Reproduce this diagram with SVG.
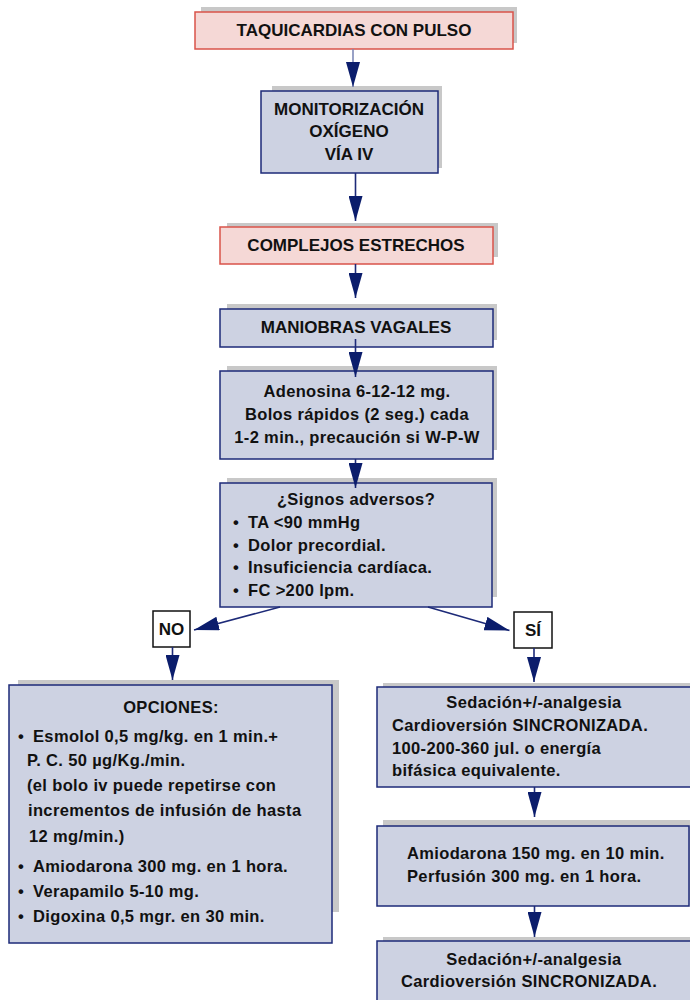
<svg xmlns="http://www.w3.org/2000/svg" width="690" height="1000" viewBox="0 0 690 1000">
  <style>
    text { font-family: "Liberation Sans", Arial, sans-serif; font-weight: bold; fill: #111; }
    .h { font-size: 17px; }
    .b { font-size: 16.5px; letter-spacing: 0.35px; }
    .c { text-anchor: middle; }
    .shadow { fill: #c8c8c8; }
    .red { fill: #f5d8d6; stroke: #d9534a; stroke-width: 1.5; }
    .blue { fill: #cdd2e2; stroke: #1d2a78; stroke-width: 1.5; }
    .plain { fill: #ffffff; stroke: #111; stroke-width: 1.5; }
    .conn { stroke: #1d2a78; stroke-width: 1.6; fill: none; marker-end: url(#head); }
  </style>
  <defs>
    <marker id="head" viewBox="0 0 25 14" refX="25" refY="7" markerWidth="25" markerHeight="14" markerUnits="userSpaceOnUse" orient="auto">
      <path d="M0,0 L25,7 L0,14 Z" fill="#0b1d6c"/>
    </marker>
  </defs>

  <rect width="690" height="1000" fill="#ffffff"/>

  <!-- boxes -->
  <g id="taquicardias">
    <rect class="shadow" x="201" y="7" width="316" height="36"/>
    <rect class="red" x="195" y="12" width="318" height="37"/>
    <text class="h c" x="354" y="36">TAQUICARDIAS CON PULSO</text>
  </g>

  <g id="monitorizacion">
    <rect class="shadow" x="272" y="86" width="170" height="82"/>
    <rect class="blue" x="261" y="91" width="177" height="82"/>
    <text class="h c" x="349" y="115">MONITORIZACIÓN</text>
    <text class="h c" x="349" y="137">OXÍGENO</text>
    <text class="h c" x="349" y="160">VÍA IV</text>
  </g>

  <g id="complejos">
    <rect class="shadow" x="227" y="223" width="271" height="34"/>
    <rect class="red" x="220" y="227" width="273" height="37"/>
    <text class="h c" x="356" y="251">COMPLEJOS ESTRECHOS</text>
  </g>

  <g id="maniobras">
    <rect class="shadow" x="227" y="304" width="270" height="36"/>
    <rect class="blue" x="220" y="309" width="273" height="38"/>
    <text class="h c" x="356" y="333">MANIOBRAS VAGALES</text>
  </g>

  <g id="adenosina">
    <rect class="shadow" x="227" y="366" width="270" height="84"/>
    <rect class="blue" x="220" y="371" width="273" height="88"/>
    <text class="b c" x="357" y="397">Adenosina 6-12-12 mg.</text>
    <text class="b c" x="357" y="420">Bolos rápidos (2 seg.) cada</text>
    <text class="b c" x="357" y="443">1-2 min., precaución si W-P-W</text>
  </g>

  <g id="signos">
    <rect class="shadow" x="227" y="478" width="270" height="119"/>
    <rect class="blue" x="220" y="483" width="272" height="124"/>
    <text class="b c" x="356" y="505">¿Signos adversos?</text>
    <text class="b" x="233" y="528">•</text>
    <text class="b" x="248" y="528">TA &lt;90 mmHg</text>
    <text class="b" x="233" y="551">•</text>
    <text class="b" x="248" y="551">Dolor precordial.</text>
    <text class="b" x="233" y="573">•</text>
    <text class="b" x="248" y="573">Insuficiencia cardíaca.</text>
    <text class="b" x="233" y="596">•</text>
    <text class="b" x="248" y="596">FC &gt;200 lpm.</text>
  </g>

  <g id="no">
    <rect class="plain" x="153" y="611" width="37" height="36"/>
    <text class="h c" x="171.5" y="635">NO</text>
  </g>

  <g id="si">
    <rect class="plain" x="514" y="612" width="38" height="36"/>
    <text class="h c" x="533" y="636">SÍ</text>
  </g>

  <g id="opciones">
    <rect class="shadow" x="18" y="680" width="321" height="232"/>
    <rect class="blue" x="9" y="685" width="323" height="258"/>
    <text class="b c" x="171" y="713">OPCIONES:</text>
    <text class="b" x="18" y="742">•</text>
    <text class="b" x="33" y="742">Esmolol 0,5 mg/kg. en 1 min.+</text>
    <text class="b" x="27" y="766">P. C. 50 µg/Kg./min.</text>
    <text class="b" x="27" y="791">(el bolo iv puede repetirse con</text>
    <text class="b" x="28" y="816">incrementos de infusión de hasta</text>
    <text class="b" x="29" y="842">12 mg/min.)</text>
    <text class="b" x="18" y="872">•</text>
    <text class="b" x="33" y="872">Amiodarona 300 mg. en 1 hora.</text>
    <text class="b" x="18" y="897">•</text>
    <text class="b" x="33" y="897">Verapamilo 5-10 mg.</text>
    <text class="b" x="18" y="922">•</text>
    <text class="b" x="33" y="922">Digoxina 0,5 mgr. en 30 min.</text>
  </g>

  <g id="cardioversion">
    <rect class="shadow" x="383" y="683" width="312" height="96"/>
    <rect class="blue" x="377" y="687" width="320" height="100"/>
    <text class="b c" x="534" y="708">Sedación+/-analgesia</text>
    <text class="b" x="392" y="731">Cardioversión SINCRONIZADA.</text>
    <text class="b" x="392" y="754">100-200-360 jul. o energía</text>
    <text class="b" x="392" y="776">bifásica equivalente.</text>
  </g>

  <g id="amiodarona">
    <rect class="shadow" x="383" y="820" width="312" height="80"/>
    <rect class="blue" x="377" y="826" width="312" height="80"/>
    <text class="b" x="407" y="859">Amiodarona 150 mg. en 10 min.</text>
    <text class="b" x="407" y="882">Perfusión 300 mg. en 1 hora.</text>
  </g>

  <g id="cardioversion-2">
    <rect class="shadow" x="383" y="937" width="312" height="70"/>
    <rect class="blue" x="377" y="941" width="320" height="70"/>
    <text class="b c" x="534" y="965">Sedación+/-analgesia</text>
    <text class="b" x="401" y="987">Cardioversión SINCRONIZADA.</text>
  </g>

  <!-- connectors -->
  <g id="connectors">
    <path class="conn" style="stroke:#7f8ab8" d="M353,49 V87"/>
    <path class="conn" d="M355.5,173 V221"/>
    <path class="conn" d="M355.5,264 V298"/>
    <path class="conn" d="M355.5,339 V377"/>
    <path class="conn" d="M355.5,459 V488"/>
    <path class="conn" d="M280,607 L194,630"/>
    <path class="conn" d="M428,607 L509.5,630.5"/>
    <path class="conn" d="M172.5,647 V680"/>
    <path class="conn" d="M534,648 V682"/>
    <path class="conn" d="M534.5,787 V817"/>
    <path class="conn" d="M534.5,906 V937"/>
  </g>
</svg>
